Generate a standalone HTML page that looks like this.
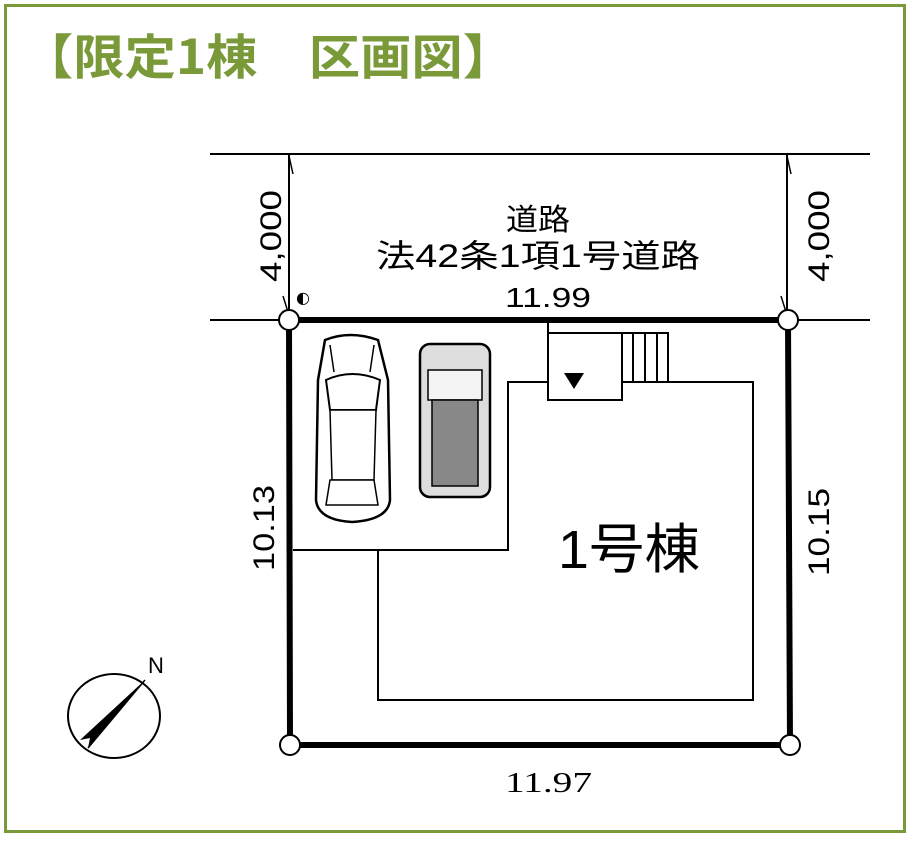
<!DOCTYPE html>
<html><head><meta charset="utf-8"><style>
html,body{margin:0;padding:0;background:#fff;}
svg{display:block;}
</style></head><body>
<svg width="914" height="847" viewBox="0 0 914 847" xmlns="http://www.w3.org/2000/svg">
<rect x="5.5" y="5.5" width="899" height="826" fill="#fff" stroke="#7a9a3a" stroke-width="3"/>
<text x="22" y="74" font-family="'Noto Sans CJK JP',sans-serif" font-weight="bold" font-size="48" fill="#7a9a3a" textLength="492" lengthAdjust="spacingAndGlyphs">【限定1棟　区画図】</text>

<g stroke="#000" fill="none">
<line x1="210" y1="154" x2="870" y2="154" stroke-width="2"/>
<line x1="210" y1="320" x2="870" y2="320" stroke-width="2"/>
<line x1="289" y1="154" x2="289" y2="320" stroke-width="2"/>
<line x1="787" y1="154" x2="787" y2="320" stroke-width="2"/>
<line x1="289" y1="156" x2="293" y2="174" stroke-width="1.5"/>
<line x1="787" y1="156" x2="791" y2="174" stroke-width="1.5"/>
<line x1="283" y1="296" x2="288" y2="312" stroke-width="1.5"/>
<line x1="781" y1="296" x2="786" y2="312" stroke-width="1.5"/>
<polygon points="289,320 788,320 790,745 290,745" stroke-width="6"/>
<g stroke-width="2">
<polyline points="548,320 548,382 508,382 508,550 293,550"/>
<polyline points="378,550 378,700 753,700 753,382 622,382"/>
<rect x="548" y="333" width="74" height="67"/>
<rect x="622" y="333" width="46" height="49"/>
<line x1="633" y1="333" x2="633" y2="382"/>
<line x1="645" y1="333" x2="645" y2="382"/>
<line x1="657" y1="333" x2="657" y2="382"/>
</g>
</g>
<polygon points="564,373 584,373 574,389" fill="#000"/>
<g fill="#fff" stroke="#000" stroke-width="2">
<circle cx="289" cy="320" r="10"/>
<circle cx="788" cy="320" r="10"/>
<circle cx="290" cy="745" r="10"/>
<circle cx="790" cy="745" r="10"/>
</g>
<g fill="#fff" stroke="#000" stroke-width="2.5">
<path d="M325,340 Q350,330 378,340 L388,380 L390,500 Q388,520 352,522 Q318,520 316,500 L318,380 Z"/>
<path d="M326,380 Q352,368 380,380 L376,410 L330,410 Z" stroke-width="2"/>
<path d="M330,410 L376,410 L374,480 L332,480 Z" stroke-width="1.5"/>
<path d="M330,480 L374,480 L378,505 L326,505 Z" stroke-width="1.5"/>
<line x1="330" y1="345" x2="334" y2="372" stroke-width="1.5"/>
<line x1="374" y1="345" x2="370" y2="372" stroke-width="1.5"/>
</g>
<g stroke="#000">
<rect x="420" y="344" width="70" height="153" rx="10" fill="#ddd" stroke-width="2.5"/>
<rect x="428" y="370" width="54" height="30" fill="#f4f4f4" stroke-width="1.5"/>
<rect x="432" y="400" width="46" height="86" fill="#888" stroke-width="1.5"/>
</g>
<g font-family="'Liberation Sans','Noto Sans CJK JP',sans-serif" fill="#000">
<text x="506" y="230" font-size="30" font-family="'Noto Sans CJK JP',sans-serif" textLength="64" lengthAdjust="spacingAndGlyphs">道路</text>
<text x="376" y="267" font-size="32" textLength="324" lengthAdjust="spacingAndGlyphs">法42条1項1号道路</text>
<text x="505" y="307" font-size="28" textLength="86" lengthAdjust="spacingAndGlyphs">11.99</text>
<text x="558" y="568" font-size="54" textLength="142" lengthAdjust="spacingAndGlyphs">1号棟</text>
<text x="0" y="0" font-size="30" transform="translate(281,282) rotate(-90)" textLength="92" lengthAdjust="spacingAndGlyphs">4,000</text>
<text x="0" y="0" font-size="30" transform="translate(829,282) rotate(-90)" textLength="92" lengthAdjust="spacingAndGlyphs">4,000</text>
<text x="0" y="0" font-size="30" transform="translate(274,571) rotate(-90)" textLength="86" lengthAdjust="spacingAndGlyphs">10.13</text>
<text x="0" y="0" font-size="30" transform="translate(829,576) rotate(-90)" textLength="88" lengthAdjust="spacingAndGlyphs">10.15</text>
<text x="505" y="792" font-size="28" font-family="'Liberation Serif',serif" textLength="87" lengthAdjust="spacingAndGlyphs">11.97</text>
<text x="148" y="673" font-size="22">N</text>
</g>
<text x="296" y="303" font-size="16" font-family="'DejaVu Sans',sans-serif">◐</text>
<ellipse cx="114" cy="716" rx="46" ry="42" fill="none" stroke="#000" stroke-width="2"/>
<line x1="145" y1="680" x2="88" y2="748" stroke="#000" stroke-width="1.5"/>
<polygon points="145,680 80,740 90,738 88,748" fill="#000"/>
</svg>
</body></html>
